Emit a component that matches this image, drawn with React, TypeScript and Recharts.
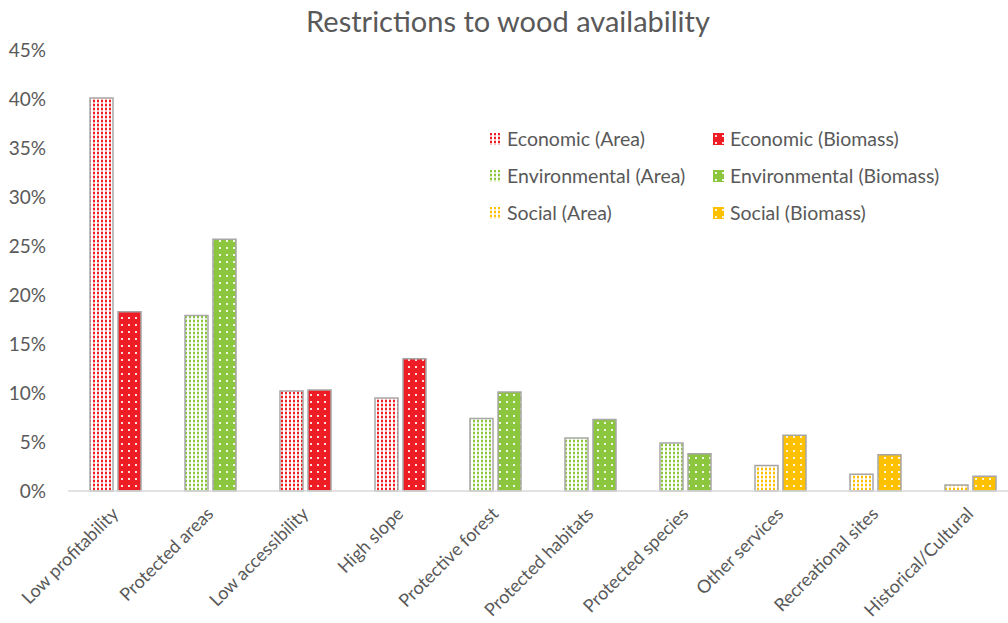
import React from 'react';
import { BarChart, Bar, XAxis, YAxis, Cell } from 'recharts';

const categories = ['Low profitability', 'Protected areas', 'Low accessibility', 'High slope', 'Protective forest', 'Protected habitats', 'Protected species', 'Other services', 'Recreational sites', 'Historical/Cultural'];
const groups = ['Economic', 'Environmental', 'Economic', 'Economic', 'Environmental', 'Environmental', 'Environmental', 'Social', 'Social', 'Social'];
const areaValues = [40.1, 17.9, 10.2, 9.5, 7.4, 5.4, 4.9, 2.6, 1.7, 0.6];
const biomassValues = [18.3, 25.7, 10.3, 13.5, 10.1, 7.3, 3.8, 5.7, 3.7, 1.5];
const yTicks = [0, 5, 10, 15, 20, 25, 30, 35, 40, 45];
const legendGroups = ['Economic', 'Environmental', 'Social'];

const COLORS: Record<string, string> = { Economic: '#ee1c25', Environmental: '#8cc63f', Social: '#ffc000' };
const FONT = 'Lato, "Open Sans", sans-serif';
const TEXT = '#595959';

const data = categories.map((c, i) => ({ name: c, group: groups[i], area: areaValues[i], biomass: biomassValues[i] }));

const Patterns = () => (
  <svg width={0} height={0} style={{ position: 'absolute' }}>
    <defs>
      {legendGroups.map((g) => (
        <React.Fragment key={g}>
          <pattern id={`area-${g}`} width={4} height={4} patternUnits="userSpaceOnUse">
            <rect width={4} height={4} fill="#fff" />
            <rect x={1} y={0} width={2} height={2} fill={COLORS[g]} />
            <rect x={1} y={2.5} width={2} height={1} fill={COLORS[g]} opacity={0.6} />
          </pattern>
          <pattern id={`bio-${g}`} width={7} height={7} patternUnits="userSpaceOnUse">
            <rect width={7} height={7} fill={COLORS[g]} />
            <rect x={2} y={2} width={2} height={2} fill="#fff" opacity={0.85} />
          </pattern>
        </React.Fragment>
      ))}
    </defs>
  </svg>
);

const XTick = (props: any) => {
  const { x, y, payload } = props;
  return (
    <g transform={`translate(${x + 4},${y + 24})`}>
      <text x={0} y={0} textAnchor="end" transform="rotate(-45)" fill={TEXT} fontSize={18} fontFamily={FONT}>
        {payload.value}
      </text>
    </g>
  );
};

const LegendBox = () => (
  <div style={{ position: 'absolute', left: 489, top: 127, width: 480, height: 120, fontFamily: FONT, fontSize: 19.5, color: TEXT }}>
    {legendGroups.map((g, r) => (
      <React.Fragment key={g}>
        <div style={{ position: 'absolute', left: 0, top: r * 37, display: 'flex', alignItems: 'center', whiteSpace: 'nowrap' }}>
          <svg width={11} height={12} style={{ marginRight: 7 }}>
            <rect width={11} height={12} fill={`url(#area-${g})`} />
          </svg>
          <span>{g} (Area)</span>
        </div>
        <div style={{ position: 'absolute', left: 224, top: r * 37, display: 'flex', alignItems: 'center', whiteSpace: 'nowrap' }}>
          <svg width={11} height={12} style={{ marginRight: 6 }}>
            <rect width={11} height={12} fill={`url(#bio-${g})`} />
          </svg>
          <span>{g} (Biomass)</span>
        </div>
      </React.Fragment>
    ))}
  </div>
);

export default function App() {
  return (
    <div style={{ position: 'absolute', left: 0, top: 0, width: 1008, height: 623, overflow: 'hidden', background: '#fff' }}>
      <Patterns />
      <div style={{ position: 'absolute', left: 0, top: 3, width: 1016, textAlign: 'center', fontFamily: FONT, fontSize: 29, color: TEXT }}>
        Restrictions to wood availability
      </div>
      <BarChart width={1018} height={623} data={data} margin={{ top: 50, right: 0, left: 0, bottom: 0 }} barSize={23} barGap={5}>
        <XAxis dataKey="name" height={132} tick={<XTick />} tickLine={false} interval={0} axisLine={{ stroke: '#d9d9d9', strokeWidth: 1.5 }} tickSize={0} tickMargin={0} />
        <YAxis width={68} domain={[0, 45]} ticks={yTicks} tickFormatter={(v: number) => `${v}%`} axisLine={false} tickLine={false} tickSize={0} tickMargin={22} tick={{ fill: TEXT, fontSize: 19, fontFamily: FONT }} />
        <Bar dataKey="area" isAnimationActive={false} stroke="#a6a6a6" strokeWidth={1.5}>
          {data.map((d, i) => <Cell key={i} fill={`url(#area-${d.group})`} />)}
        </Bar>
        <Bar dataKey="biomass" isAnimationActive={false} stroke="#a6a6a6" strokeWidth={1.5}>
          {data.map((d, i) => <Cell key={i} fill={`url(#bio-${d.group})`} />)}
        </Bar>
      </BarChart>
      <LegendBox />
    </div>
  );
}
